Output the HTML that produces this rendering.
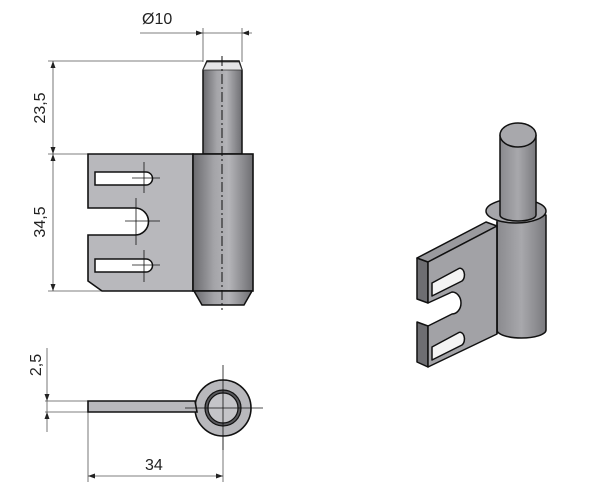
<!DOCTYPE html>
<html><head><meta charset="utf-8"><style>
html,body{margin:0;padding:0;background:#fff;}
svg{display:block;}
text{font-family:"Liberation Sans",Arial,sans-serif;font-size:16px;fill:#222;}
</style></head><body>
<svg width="600" height="493" viewBox="0 0 600 493" xmlns="http://www.w3.org/2000/svg">
<defs>
<linearGradient id="cyl" x1="0" x2="1" y1="0" y2="0">
<stop offset="0" stop-color="#6a6a6e"/><stop offset="0.35" stop-color="#a4a4a8"/><stop offset="0.6" stop-color="#b4b4b8"/><stop offset="1" stop-color="#6e6e72"/>
</linearGradient>
<linearGradient id="cyl3" x1="0" x2="1" y1="0" y2="0">
<stop offset="0" stop-color="#8a8a8e"/><stop offset="0.5" stop-color="#a8a8ac"/><stop offset="1" stop-color="#7a7a7e"/>
</linearGradient>
</defs>

<g stroke="#555" stroke-width="0.8" fill="none">
<line x1="140" y1="33" x2="252" y2="33"/>
<line x1="203" y1="28" x2="203" y2="62"/>
<line x1="242" y1="28" x2="242" y2="62"/>
<line x1="48" y1="61" x2="203" y2="61"/>
<line x1="48" y1="154" x2="88" y2="154"/>
<line x1="48" y1="291" x2="102" y2="291"/>
<line x1="53" y1="61" x2="53" y2="291"/>
<line x1="45" y1="401" x2="88" y2="401"/>
<line x1="45" y1="412" x2="88" y2="412"/>
<line x1="47" y1="348" x2="47" y2="432"/>
<line x1="88" y1="412" x2="88" y2="482"/>
<line x1="223" y1="430" x2="223" y2="482"/>
<line x1="88" y1="476" x2="223" y2="476"/>
</g>
<g fill="#222">
<path d="M203,33 l-7,-2.5 v5z"/><path d="M242,33 l7,-2.5 v5z"/>
<path d="M53,61 l-2.5,7 h5z"/><path d="M53,154 l-2.5,-7 h5z"/>
<path d="M53,154 l-2.5,7 h5z"/><path d="M53,291 l-2.5,-7 h5z"/>
<path d="M47,401 l-2.5,-7 h5z"/><path d="M47,412 l-2.5,7 h5z"/>
<path d="M88,476 l7,-2.5 v5z"/><path d="M223,476 l-7,-2.5 v5z"/>
</g>
<text x="142" y="24">Ø10</text>
<text transform="translate(45,108) rotate(-90)" text-anchor="middle">23,5</text>
<text transform="translate(45,222) rotate(-90)" text-anchor="middle">34,5</text>
<text transform="translate(41,365) rotate(-90)" text-anchor="middle">2,5</text>
<text x="145" y="470">34</text>

<path d="M88,154 H193 V291 H102 L88,281 V235 H135 A13,13 0 0 0 135,208 H88 Z" fill="#b8b8bc" stroke="#111" stroke-width="1.6"/>
<path d="M95,172 H146 A6.5,6.5 0 0 1 146,185 H95 Z" fill="#fff" stroke="#111" stroke-width="1.5"/>
<path d="M95,259 H146 A6.5,6.5 0 0 1 146,272 H95 Z" fill="#fff" stroke="#111" stroke-width="1.5"/>
<g stroke="#111" stroke-width="0.8">
<line x1="132" y1="178" x2="160" y2="178"/><line x1="144" y1="162" x2="144" y2="193"/>
<line x1="125" y1="221" x2="160" y2="221"/><line x1="136" y1="198" x2="136" y2="245"/>
<line x1="132" y1="265" x2="160" y2="265"/><line x1="144" y1="250" x2="144" y2="282"/>
</g>
<path d="M203,154 V70 L207,61 H239 L242,70 V154 Z" fill="url(#cyl)" stroke="#111" stroke-width="1.5"/>
<path d="M207,62 H239 L242,70 H203 Z" fill="#e4e4e6" stroke="#333" stroke-width="0.8"/>
<rect x="193" y="154" width="60" height="137" fill="url(#cyl)" stroke="#111" stroke-width="1.6"/>
<path d="M194,291 H252 L244,305 H202 Z" fill="url(#cyl)" stroke="#111" stroke-width="1.5"/>
<line x1="222" y1="56" x2="222" y2="310" stroke="#111" stroke-width="1" stroke-dasharray="10,3,2,3"/>

<circle cx="223" cy="408" r="28" fill="#b8b8bc" stroke="#111" stroke-width="1.6"/>
<path d="M88,401 H195 L197,412 H88 Z" fill="#b8b8bc" stroke="#111" stroke-width="1.6"/>
<circle cx="223" cy="408" r="18" fill="#5a5a5e" stroke="#111" stroke-width="1.2"/>
<circle cx="223" cy="408" r="15" fill="#c4c4c8" stroke="#111" stroke-width="1.2"/>
<g stroke="#111" stroke-width="0.8">
<line x1="185" y1="408" x2="263" y2="408"/><line x1="223" y1="365" x2="223" y2="450"/>
</g>

<g stroke="#111" stroke-width="1.5" stroke-linejoin="round">
<path d="M497,215 V330 A24.5,8 0 0 0 546,330 V215 Z" fill="url(#cyl3)"/>
<ellipse cx="516" cy="211" rx="30" ry="12" fill="#a6a6aa"/>
<path d="M417,258 L428,262 V303 L417,299 Z" fill="#6e6e72"/>
<path d="M417,322 L428,326 V367 L417,362 Z" fill="#6e6e72"/>
<path d="M417,258 L486,222 L497,226 L428,262 Z" fill="#9a9a9e"/>
<path d="M428,262 L497,226 V334 L428,367 V326 L452,314 A9,11 0 0 0 452,292 L428,303 Z" fill="#a2a2a6"/>
<path d="M432,283 L458,269 A4,6 0 0 1 462,281 L432,296 Z" fill="#f4f4f4"/>
<path d="M432,347 L458,333 A4,6 0 0 1 462,345 L432,360 Z" fill="#f4f4f4"/>
<line x1="497" y1="222" x2="497" y2="334"/>
<path d="M500,135 V215 A18,6 0 0 0 536,215 V135 Z" fill="url(#cyl3)"/>
<ellipse cx="518" cy="135" rx="18" ry="12" fill="#a8a8ac"/>
</g>
</svg>
</body></html>
